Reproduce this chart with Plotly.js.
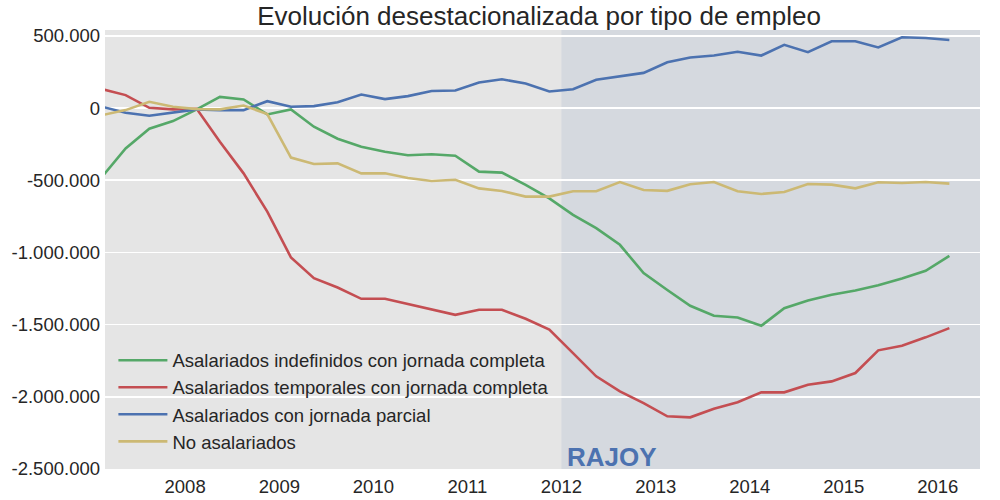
<!DOCTYPE html>
<html>
<head>
<meta charset="utf-8">
<script src="https://cdn.plot.ly/plotly-3.0.1.min.js"></script>
<style>html,body{margin:0;padding:0;background:#fff;}#chart{width:1000px;height:500px;}</style>
</head>
<body>
<div id="chart"></div>
<script>
var dates = ['2007-02-15','2007-05-15','2007-08-15','2007-11-15',
  '2008-02-15','2008-05-15','2008-08-15','2008-11-15',
  '2009-02-15','2009-05-15','2009-08-15','2009-11-15',
  '2010-02-15','2010-05-15','2010-08-15','2010-11-15',
  '2011-02-15','2011-05-15','2011-08-15','2011-11-15',
  '2012-02-15','2012-05-15','2012-08-15','2012-11-15',
  '2013-02-15','2013-05-15','2013-08-15','2013-11-15',
  '2014-02-15','2014-05-15','2014-08-15','2014-11-15',
  '2015-02-15','2015-05-15','2015-08-15','2015-11-15',
  '2016-02-15'];

var seriesNames = ['Asalariados indefinidos con jornada completa',
  'Asalariados temporales con jornada completa',
  'Asalariados con jornada parcial',
  'No asalariados'];

var indefinidos = [-470000,-279000,-143000,-90000,-9000,78000,60000,-44000,
  -9000,-129000,-212000,-268000,-302000,-327000,-320000,-330000,
  -440000,-447000,-532000,-625000,-740000,-832000,-947000,-1143000,
  -1260000,-1369000,-1438000,-1450000,-1508000,-1386000,-1333000,-1293000,
  -1263000,-1227000,-1180000,-1127000,-1024000];

var temporales = [130000,90000,2000,-9000,-5000,-233000,-452000,-717000,
  -1035000,-1178000,-1243000,-1321000,-1321000,-1356000,-1392000,-1432000,
  -1397000,-1397000,-1459000,-1535000,-1697000,-1858000,-1962000,-2043000,
  -2135000,-2142000,-2082000,-2038000,-1969000,-1969000,-1916000,-1893000,
  -1835000,-1678000,-1646000,-1588000,-1524000];

var parcial = [8000,-32000,-53000,-30000,-9000,-14000,-14000,48000,
  9000,14000,41000,94000,62000,83000,118000,122000,
  177000,200000,170000,115000,131000,196000,221000,244000,
  318000,350000,364000,390000,364000,438000,387000,463000,
  463000,420000,491000,486000,472000];

var noAsalariados = [-48000,-14000,44000,9000,-7000,-9000,18000,-41000,
  -343000,-387000,-383000,-452000,-452000,-484000,-505000,-496000,
  -556000,-574000,-613000,-613000,-576000,-576000,-512000,-567000,
  -573000,-528000,-512000,-576000,-595000,-581000,-526000,-530000,
  -556000,-514000,-519000,-512000,-523000];

var xTickVals = ['2008-01-01','2009-01-01','2010-01-01','2011-01-01','2012-01-01',
  '2013-01-01','2014-01-01','2015-01-01','2016-01-01'];
var xTickText = ['2008','2009','2010','2011','2012','2013','2014','2015','2016'];
var yTickVals = [500000,0,-500000,-1000000,-1500000,-2000000,-2500000];
var yTickText = ['500.000','0','-500.000','-1.000.000','-1.500.000','-2.000.000','-2.500.000'];

var rajoyStart = '2012-01-01';
var rajoyLabel = 'RAJOY';
var titleText = 'Evolución desestacionalizada por tipo de empleo';

var colors = ['#55A868','#C44E52','#4C72B0','#CCB974'];
var values = [indefinidos, temporales, parcial, noAsalariados];

var traces = values.map(function(v, i){
  return {x: dates, y: v, type: 'scatter', mode: 'lines', name: seriesNames[i],
    line: {color: colors[i], width: 2.6}};
});

var xEnd = '2016-06-13';

var layout = {
  width: 1000, height: 500,
  margin: {l: 105, r: 20, t: 30, b: 31},
  paper_bgcolor: '#ffffff',
  plot_bgcolor: '#E5E5E5',
  font: {family: 'Liberation Sans, Arial, sans-serif', color: '#262626', size: 18.5},
  title: {text: titleText, x: 0.539, xanchor: 'center', y: 0.986, yanchor: 'top',
    font: {size: 26, color: '#262626', family: 'Liberation Sans, Arial, sans-serif'}},
  xaxis: {type: 'date', range: ['2007-02-24', xEnd], showgrid: false, zeroline: false,
    tickvals: xTickVals, ticktext: xTickText, ticks: '', showline: false,
    ticklabelstandoff: 4},
  yaxis: {range: [-2500000, 541000], showgrid: true, gridcolor: '#ffffff', gridwidth: 1.6,
    zeroline: false, tickvals: yTickVals, ticktext: yTickText, ticks: '', showline: false,
    ticklabelstandoff: 4},
  shapes: [{type: 'rect', xref: 'x', yref: 'paper', x0: rajoyStart, x1: xEnd, y0: 0, y1: 1,
    fillcolor: 'rgba(76,114,176,0.1)', line: {width: 0}, layer: 'between'}],
  annotations: [{x: rajoyStart, y: -2500000, xref: 'x', yref: 'y', text: '<b>' + rajoyLabel + '</b>',
    showarrow: false, xanchor: 'left', yanchor: 'bottom', xshift: 4, yshift: -5,
    font: {size: 26, color: '#4C72B0', family: 'Liberation Sans, Arial, sans-serif'}}],
  legend: {x: 0.0096, y: 0.019, xanchor: 'left', yanchor: 'bottom', bgcolor: 'rgba(0,0,0,0)',
    borderwidth: 0, font: {size: 18.5, color: '#262626'}, itemwidth: 49},
  showlegend: true
};

Plotly.newPlot('chart', traces, layout, {displayModeBar: false, staticPlot: true});
</script>
</body>
</html>
